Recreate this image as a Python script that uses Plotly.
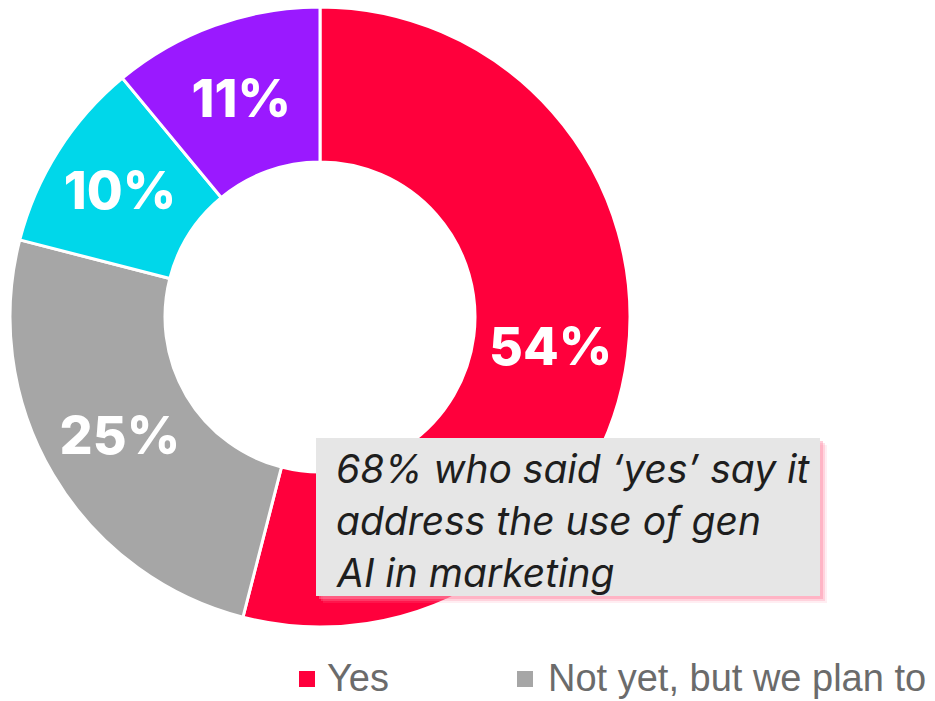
import plotly.graph_objects as go

# Survey answers, clockwise from 12 o'clock
categories = ["Yes", "Not yet, but we plan to", "No", "Don't know"]
shares = [54, 25, 10, 11]
slice_colors = ["#FF003C", "#A6A6A6", "#00D7EA", "#9A19FF"]

callout_lines = ["68% who said ‘yes’ say it", "address the use of gen", "AI in marketing"]
legend_items = [("Yes", "#FF003C"), ("Not yet, but we plan to", "#A6A6A6")]

W, H = 935, 701


def px(x):
    return x / W


def py(y):
    return 1 - y / H


fig = go.Figure(
    go.Pie(
        labels=categories,
        values=shares,
        sort=False,
        direction="clockwise",
        rotation=0,
        hole=0.5,
        marker=dict(colors=slice_colors, line=dict(color="white", width=3)),
        texttemplate="%{value}%",
        textposition="inside",
        insidetextorientation="horizontal",
        textfont=dict(family="Inter", size=52, color="white", weight=800),
        hoverinfo="label+percent",
        domain=dict(x=[px(10), px(630)], y=[py(627), py(7)]),
        showlegend=False,
    )
)

shapes = []
# soft pink shadow behind the callout box
for off, op in [(7, 0.15), (5, 0.28), (3, 0.45)]:
    shapes.append(dict(
        type="rect", xref="paper", yref="paper",
        x0=px(316 + off), x1=px(820 + off), y0=py(596 + off), y1=py(438 + off),
        fillcolor="#FF8FA8", opacity=op, line=dict(width=0), layer="above",
    ))
shapes.append(dict(
    type="rect", xref="paper", yref="paper",
    x0=px(316), x1=px(820), y0=py(596), y1=py(438),
    fillcolor="#E6E6E6", line=dict(width=0), layer="above",
))

annotations = []
for i, line in enumerate(callout_lines):
    annotations.append(dict(
        xref="paper", yref="paper", x=px(334), y=py(468 + 52 * i),
        xanchor="left", yanchor="middle", showarrow=False,
        text=f"<i>{line}</i>",
        font=dict(family="Inter", size=39, color="#1E1E1E"),
    ))

# legend row along the bottom edge
legend_x = [(299, 325), (517, 546)]
for (name, color), (sx, tx) in zip(legend_items, legend_x):
    shapes.append(dict(
        type="rect", xref="paper", yref="paper",
        x0=px(sx), x1=px(sx + 16), y0=py(687), y1=py(671),
        fillcolor=color, line=dict(width=0),
    ))
    annotations.append(dict(
        xref="paper", yref="paper", x=px(tx), y=py(701),
        xanchor="left", yanchor="bottom", showarrow=False,
        text=name,
        font=dict(family="Liberation Sans", size=38, color="#6B6B6B"),
    ))

fig.update_layout(
    width=W, height=H,
    margin=dict(l=0, r=0, t=0, b=0),
    paper_bgcolor="white",
    plot_bgcolor="white",
    shapes=shapes,
    annotations=annotations,
)

fig.write_html("out.html")
